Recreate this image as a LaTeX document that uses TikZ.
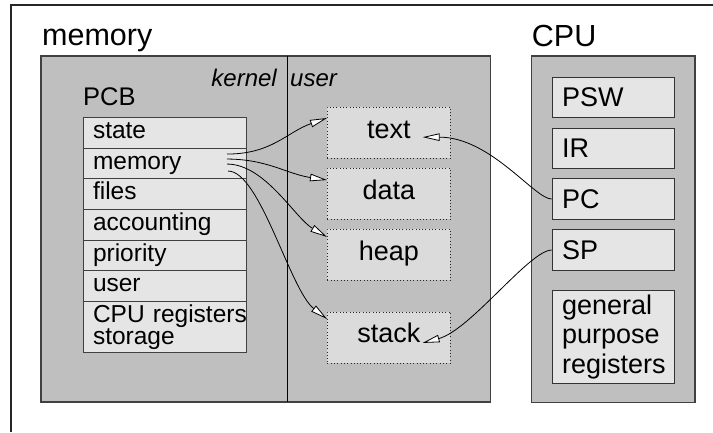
\documentclass[tikz,border=0pt]{standalone}
\usepackage{fontspec}
\setmainfont{Liberation Sans}
\usetikzlibrary{positioning,arrows.meta}

\tikzset{
  box/.style={draw=black!75, line width=1.2pt, fill=black!25},
  field/.style={draw=black!75, line width=0.9pt, fill=black!10, anchor=north west, outer sep=0pt,
    inner xsep=10pt, text width=143pt, align=left, minimum height=30.7pt,
    text height=17.5pt, text depth=6pt, font=\fontsize{24.5}{19}\selectfont},
  segment/.style={draw=black!85, line width=0.9pt, dash pattern=on 1pt off 2.3pt, fill=black!14,
    anchor=north west, minimum width=123pt, minimum height=51pt,
    text height=19pt, text depth=8.5pt, font=\fontsize{27}{30}\selectfont},
  reg/.style={draw=black!80, line width=0.9pt, fill=black!10, anchor=north west, inner xsep=10pt,
    text width=102.3pt, align=left, minimum height=40.6pt, font=\fontsize{27}{29.7}\selectfont},
  title/.style={anchor=base west, inner sep=0pt, font=\fontsize{30.5}{36}\selectfont},
  side/.style={inner sep=0pt, font=\itshape\fontsize{24}{30}\selectfont},
  ptr/.style={-{Triangle[length=17pt,width=7.5pt,fill=white]}, line width=0.8pt},
}

\begin{document}
\begin{tikzpicture}[x=1pt,y=-1pt]
    \useasboundingbox (0,0) rectangle (713,432);
    \draw[line width=1.3pt, black!85] (713,5) -- (11,5) -- (11,432);
    \node[title] (memtitle) at (42,45.5) {memory};
    \node[title] (cputitle) at (531.7,46.5) {CPU};
    \filldraw[box] (41,56) rectangle (490.7,402);
    \draw[line width=0.9pt] (287,56) -- (287,402);
    \filldraw[box] (531.7,56) rectangle (695,402.7);

    \node[side, anchor=base east] (kernellbl) at (277,86.7) {kernel};
    \node[side, anchor=base west] (userlbl) at (290,86.7) {user};
    \node[anchor=base west, inner sep=0pt, font=\fontsize{25.5}{30}\selectfont] (pcb) at (83,105.5) {PCB};

    \node[field] (state) at (83,117.3) {state};
    \node[field, below=0pt of state] (mem) {memory};
    \node[field, below=0pt of mem] (files) {files};
    \node[field, below=0pt of files] (acct) {accounting};
    \node[field, below=0pt of acct] (prio) {priority};
    \node[field, below=0pt of prio] (usr) {user};
    \node[field, below=0pt of usr, minimum height=50.7pt, text height=, text depth=,
      font=\fontsize{24.5}{20}\selectfont] (regs) {\mbox{CPU registers}\\storage};

    \node[segment] (txt) at (327,107) {text};
    \node[segment] (dat) at (327,168) {data};
    \node[segment] (heap) at (327,229) {heap};
    \node[segment] (stk) at (327,311.5) {stack};

    \node[reg] (psw) at (551.7,76.7) {PSW};
    \node[reg] (ir) at (551.7,127.7) {IR};
    \node[reg] (pc) at (551.7,178.3) {PC};
    \node[reg] (sp) at (551.7,229.3) {SP};
    \node[reg, minimum height=92.7pt, inner ysep=1pt] (gpr) at (551.7,290) {general\\purpose\\registers};

    \draw[ptr] ([shift={(-19,-9.3)}]mem.east) .. controls +(45,0) and +(-40,14) .. ([shift={(0,11)}]txt.north west);
    \draw[ptr] ([shift={(-19,-4.3)}]mem.east) .. controls +(40,0) and +(-40,-6) .. ([shift={(0,12)}]dat.north west);
    \draw[ptr] ([shift={(-19,0.7)}]mem.east) .. controls +(38,0) and +(-32,-19) .. ([shift={(0,8)}]heap.north west);
    \draw[ptr] ([shift={(-18,7.7)}]mem.east) .. controls +(32,0) and +(-37,-29) .. ([shift={(0,7.5)}]stk.north west);
    \draw[ptr] (pc.west) .. controls +(-17,0) and +(68,0) .. ([shift={(-28.3,4.2)}]txt.east);
    \draw[ptr] (sp.west) .. controls +(-22,0) and +(48,-13) .. ([shift={(-28.3,5.5)}]stk.east);
\end{tikzpicture}
\end{document}
